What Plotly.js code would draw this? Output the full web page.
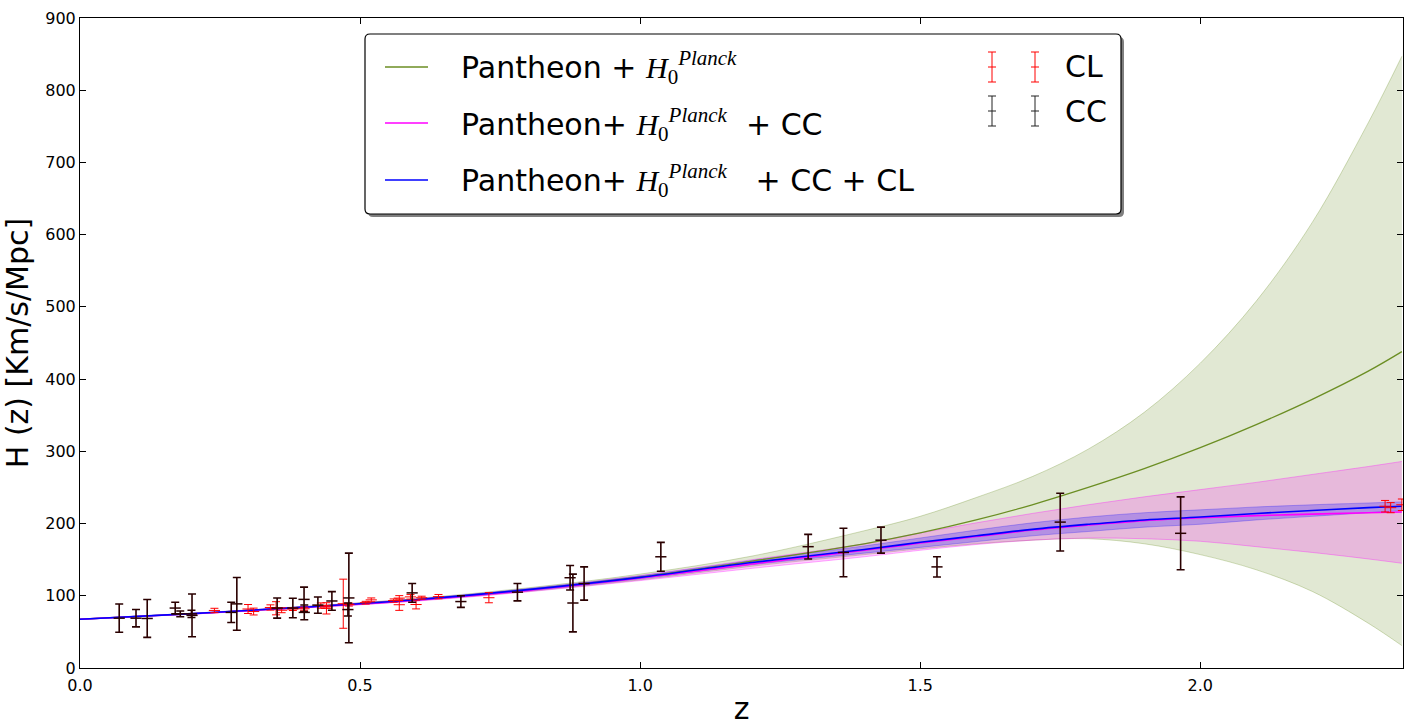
<!DOCTYPE html>
<html>
<head>
<meta charset="utf-8">
<script src="https://cdn.plot.ly/plotly-3.0.1.min.js"></script>
<style>html,body{margin:0;padding:0;background:#fff;}#chart{width:1413px;height:726px;}</style>
</head>
<body>
<div id="chart"></div>
<script>
// ---------- model curves ----------
const zModel = [0, 0.2, 0.4, 0.6, 0.8, 1.0, 1.2, 1.4, 1.5, 1.6, 1.7, 1.8, 1.9, 2.0, 2.1, 2.2, 2.3, 2.36];
const gMean = [67.5, 75.3, 84.3, 94.5, 108.5, 126, 148, 172, 187, 205, 226, 250, 276, 305, 337, 372, 411, 438];
const gHigh = [67.7, 75.8, 85.3, 96.2, 111, 130, 155, 190, 210, 236, 265, 303, 354, 422, 508, 617, 755, 847];
const gLow  = [67.3, 74.8, 83.3, 93, 106, 122, 141, 157, 165, 172, 177, 179, 172, 157, 136, 106, 62, 31];
const pMean = [67.5, 75.1, 84, 94, 107.5, 124.5, 144, 163, 173, 182, 191, 198, 204, 208, 211, 213, 215, 216];
const pHigh = [67.7, 75.6, 85, 95.5, 109.5, 128, 150, 172, 187, 201, 214, 226, 237, 247, 257, 268, 279, 286];
const pLow  = [67.3, 74.6, 83, 92.5, 105.5, 121, 138, 154, 163, 171, 177, 180, 179, 175.5, 168, 160, 151, 145];
const bMean = [67.5, 75.3, 84.3, 94.5, 108.5, 125.5, 146, 164, 174, 183, 192, 199, 205, 209, 214, 218, 222, 224];
const bHigh = [67.6, 75.6, 84.9, 95.4, 110, 127.5, 149, 169, 180, 191, 201, 209, 215, 219, 223, 226, 228.5, 230];
const bLow  = [67.4, 75, 83.7, 93.6, 107, 123.5, 143, 159, 167, 175, 183, 189, 195, 199, 205, 210, 215, 218];

// ---------- CC data ----------
const ccZ = [0.07, 0.1, 0.12, 0.17, 0.179, 0.199, 0.2, 0.27, 0.28, 0.352, 0.38, 0.4, 0.4004, 0.4247, 0.4497, 0.4783, 0.48, 0.593, 0.68, 0.781, 0.875, 0.88, 0.9, 1.037, 1.3, 1.363, 1.43, 1.53, 1.75, 1.965];
const ccH = [69, 69, 68.6, 83, 75, 75, 72.9, 77, 88.8, 83, 83, 95, 77, 87.1, 92.8, 80.9, 97, 104, 92, 105, 125, 90, 117, 154, 168, 160, 177, 140, 202, 186.5];
const ccErr = [19.6, 12, 26.2, 8, 4, 5, 29.6, 14, 36.6, 14, 13.5, 17, 10.2, 11.2, 12.9, 9, 62, 13, 8, 12, 17, 40, 23, 20, 17, 33.6, 18, 14, 40, 50.4];

// ---------- CL data ----------
const clZ = [0.24, 0.30, 0.31, 0.34, 0.35, 0.36, 0.38, 0.40, 0.43, 0.44, 0.44, 0.47, 0.48, 0.51, 0.52, 0.56, 0.57, 0.57, 0.59, 0.60, 0.61, 0.64, 0.73, 2.33, 2.34, 2.36];
const clH = [79.69, 81.7, 78.18, 83.8, 82.7, 79.94, 81.5, 82.04, 86.45, 82.6, 84.81, 89, 87.79, 90.4, 94.35, 93.34, 87.6, 96.8, 98.48, 87.9, 97.3, 98.82, 97.3, 224, 222, 226];
const clErr = [2.99, 6.22, 4.74, 3.66, 9.1, 3.38, 1.9, 2.03, 3.68, 7.8, 1.83, 34, 2.03, 1.9, 2.64, 2.3, 7.8, 3.4, 3.18, 6.1, 2.1, 2.98, 7.0, 8, 7, 8];

// ---------- labels ----------
const xTickVals = [0, 0.5, 1.0, 1.5, 2.0];
const xTickText = ["0.0", "0.5", "1.0", "1.5", "2.0"];
const yTickVals = [0, 100, 200, 300, 400, 500, 600, 700, 800, 900];
const xTitle = "z";
const yTitle = "H (z) [Km/s/Mpc]";
const H0P = '<span style="font-family:Liberation Serif"><i>H</i><sub>0</sub><sup><i>Planck</i></sup></span>';
const legendRows = ['Pantheon + ' + H0P, 'Pantheon+ ' + H0P + ' &nbsp;+ CC', 'Pantheon+ ' + H0P + ' &nbsp;&nbsp;+ CC + CL'];
const legendData = ['CL', 'CC'];

const GREEN = '#6b8e23';
const traces = [];
function band(lo, hi, edge, fill) {
  traces.push({x: zModel, y: lo, type: 'scatter', mode: 'lines', line: {color: edge, width: 1, shape: 'spline'}, hoverinfo: 'skip', showlegend: false});
  traces.push({x: zModel, y: hi, type: 'scatter', mode: 'lines', fill: 'tonexty', fillcolor: fill, line: {color: edge, width: 1, shape: 'spline'}, hoverinfo: 'skip', showlegend: false});
}
band(gLow, gHigh, 'rgba(107,142,35,0.3)', 'rgba(107,142,35,0.2)');
band(pLow, pHigh, 'rgba(255,0,255,0.32)', 'rgba(255,0,255,0.2)');
band(bLow, bHigh, 'rgba(0,0,255,0.25)', 'rgba(0,0,255,0.22)');
traces.push({x: zModel, y: gMean, type: 'scatter', mode: 'lines', line: {color: GREEN, width: 1.3, shape: 'spline'}, showlegend: false});
traces.push({x: zModel, y: pMean, type: 'scatter', mode: 'lines', line: {color: '#ff00ff', width: 1.6, shape: 'spline'}, showlegend: false});
traces.push({x: zModel, y: bMean, type: 'scatter', mode: 'lines', line: {color: '#0000ff', width: 1.6, shape: 'spline'}, showlegend: false});
traces.push({x: clZ, y: clH, type: 'scatter', mode: 'markers',
  error_y: {type: 'data', array: clErr, visible: true, color: '#ff0000', thickness: 1, width: 4},
  marker: {symbol: 'line-ew', size: 8, color: '#ff0000', line: {color: '#ff0000', width: 1}}, showlegend: false});
traces.push({x: ccZ, y: ccH, type: 'scatter', mode: 'markers',
  error_y: {type: 'data', array: ccErr, visible: true, color: '#2a0000', thickness: 1.6, width: 4},
  marker: {symbol: 'line-ew', size: 8, color: '#2a0000', line: {color: '#2a0000', width: 1.5}}, showlegend: false});

// ---------- legend (drawn as layout shapes/annotations, pixel -> paper) ----------
const L = 80, T = 18, W = 1323, H = 650;
const px = v => (v - L) / W;
const py = v => (T + H - v) / H;
function roundRect(x0, y0, x1, y1, r) {
  const rx = r / W, ry = r / H;
  const a = px(x0), b = px(x1), top = py(y0), bot = py(y1);
  return `M ${a + rx},${bot} L ${b - rx},${bot} Q ${b},${bot} ${b},${bot + ry} L ${b},${top - ry} Q ${b},${top} ${b - rx},${top} L ${a + rx},${top} Q ${a},${top} ${a},${top - ry} L ${a},${bot + ry} Q ${a},${bot} ${a + rx},${bot} Z`;
}
const shapes = [];
shapes.push({type: 'path', xref: 'paper', yref: 'paper', path: roundRect(368, 37, 1124, 217, 5), fillcolor: '#7f7f7f', line: {width: 0}});
shapes.push({type: 'path', xref: 'paper', yref: 'paper', path: roundRect(365, 34, 1121, 214, 5), fillcolor: '#ffffff', line: {color: '#000000', width: 1.2}});
function hline(x0, x1, y, color, w) {
  shapes.push({type: 'line', xref: 'paper', yref: 'paper', x0: px(x0), x1: px(x1), y0: py(y), y1: py(y), line: {color: color, width: w}});
}
function vline(x, y0, y1, color, w) {
  shapes.push({type: 'line', xref: 'paper', yref: 'paper', x0: px(x), x1: px(x), y0: py(y0), y1: py(y1), line: {color: color, width: w}});
}
hline(385, 428, 67, GREEN, 1.3);
hline(385, 428, 123, '#ff00ff', 1.3);
hline(385, 428, 180, '#0000ff', 1.3);
function ebGlyph(x, yc, color) {
  vline(x, yc - 15, yc + 15, color, 1);
  hline(x - 4, x + 4, yc - 15, color, 1);
  hline(x - 4, x + 4, yc + 15, color, 1);
  hline(x - 4, x + 4, yc, color, 1);
}
ebGlyph(992, 67, '#ff0000'); ebGlyph(1035, 67, '#ff0000');
ebGlyph(992, 111, '#222222'); ebGlyph(1035, 111, '#222222');

const SANS = 'DejaVu Sans';
const annotations = [];
function txt(text, x, y, size) {
  annotations.push({text: text, xref: 'paper', yref: 'paper', x: px(x), y: py(y), xanchor: 'left', yanchor: 'middle', showarrow: false, font: {family: SANS, size: size, color: '#000'}});
}
txt(legendRows[0], 459, 68, 30);
txt(legendRows[1], 459, 124, 30);
txt(legendRows[2], 459, 181, 30);
txt(legendData[0], 1063, 66, 30);
txt(legendData[1], 1063, 111, 30);

const axisCommon = {
  showline: true, linecolor: '#000', linewidth: 1, mirror: 'ticks',
  ticks: 'inside', ticklen: 6, tickwidth: 1, tickcolor: '#000',
  showgrid: false, zeroline: false,
  tickfont: {family: SANS, size: 16, color: '#000'}
};
const layout = {
  width: 1413, height: 726,
  margin: {l: L, r: 1413 - L - W, t: T, b: 726 - T - H},
  paper_bgcolor: '#fff', plot_bgcolor: '#fff',
  showlegend: false,
  xaxis: Object.assign({}, axisCommon, {range: [0, 2.362], tickmode: 'array', tickvals: xTickVals, ticktext: xTickText,
    ticklabelstandoff: 3,
    title: {text: xTitle, font: {family: SANS, size: 30, color: '#000'}, standoff: 6}}),
  yaxis: Object.assign({}, axisCommon, {range: [0, 900], tickmode: 'array', tickvals: yTickVals,
    title: {text: yTitle, font: {family: SANS, size: 30, color: '#000'}, standoff: 8}}),
  shapes: shapes,
  annotations: annotations
};
Plotly.newPlot('chart', traces, layout, {displayModeBar: false, staticPlot: true});
</script>
</body>
</html>
